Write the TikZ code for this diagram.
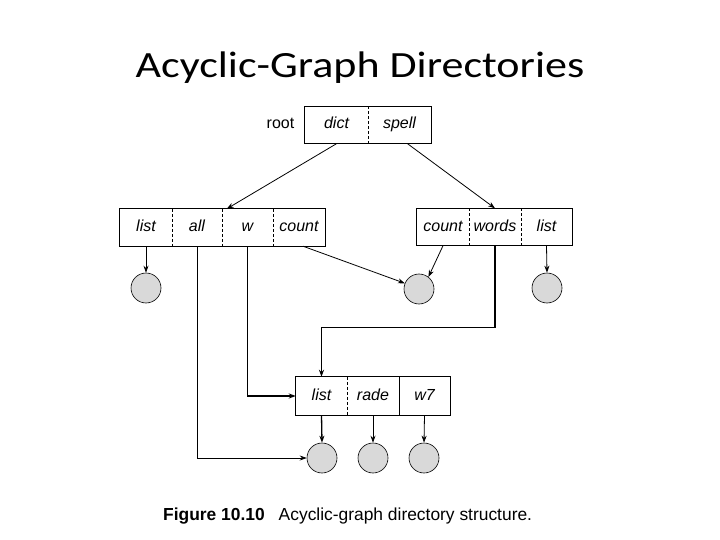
\documentclass[tikz,border=0pt]{standalone}
\usepackage{fontspec}
\setmainfont{Carlito}
\newfontfamily\figfont{Liberation Sans}
\usetikzlibrary{arrows.meta}
\tikzset{
  cell/.style={minimum height=37pt, inner sep=0pt, text height=11pt, text depth=3pt,
    font=\figfont\itshape\fontsize{16}{16}\selectfont},
  box/.style={line width=0.8pt},
  divider/.style={line width=0.6pt, densely dashed},
  file/.style={circle, draw, line width=0.6pt, fill=gray!30, minimum size=30pt, inner sep=0pt},
  link/.style={-{Stealth[length=7pt,width=5pt]}, line width=0.8pt},
  heavy/.style={link, line width=1.3pt},
}
\begin{document}
\begin{tikzpicture}[x=1pt,y=-1pt]
\useasboundingbox[fill=white] (0,0) rectangle (720,540);
\node[anchor=base, inner sep=0pt, font=\fontsize{37}{37}\selectfont] (title) at (360,78)
    {\scalebox{1.19}[1]{Acyclic-Graph Directories}};

% root directory
\node[cell, minimum width=63pt] (dict) at (336.5,125) {dict};
\node[cell, minimum width=63pt] (spell) at (399.5,125) {spell};
\draw[box] (dict.north west) rectangle (spell.south east);
\draw[divider] (dict.north east) -- (dict.south east);
\node[anchor=east, text height=11pt, text depth=3pt, font=\figfont\fontsize{16}{16}\selectfont] (root) at ([xshift=-7pt]dict.west) {root};

% dict
\node[cell, minimum width=52pt] (lst) at (146,227.5) {list};
\node[cell, minimum width=50pt] (all) at (197,227.5) {all};
\node[cell, minimum width=51pt] (w) at (247.5,227.5) {w};
\node[cell, minimum width=52pt] (cnt) at (299,227.5) {count};
\draw[box] (lst.north west) rectangle (cnt.south east);
\foreach \c in {lst, all, w}{
    \draw[divider] (\c.north east) -- (\c.south east);
}

% spell
\node[cell, minimum width=52pt] (rcnt) at (443,227) {count};
\node[cell, minimum width=52pt] (words) at (495,227) {words};
\node[cell, minimum width=51pt] (rlst) at (546.5,227) {list};
\draw[box] (rcnt.north west) rectangle (rlst.south east);
\foreach \c in {rcnt, words}{
    \draw[divider] (\c.north east) -- (\c.south east);
}

% shared directory
\node[cell, minimum width=51pt, minimum height=38pt] (blst) at (321.5,396) {list};
\node[cell, minimum width=52pt, minimum height=38pt] (rade) at (373,396) {rade};
\node[cell, minimum width=51pt, minimum height=38pt] (wseven) at (424.5,396) {w7};
\draw[box] (blst.north west) rectangle (wseven.south east);
\draw[divider] (blst.north east) -- (blst.south east);
\draw[line width=0.6pt] (rade.north east) -- (rade.south east);

% files
\node[file] (f1) at (146,288) {};
\node[file] (f2) at (419,289) {};
\node[file] (f3) at (547,288) {};
\node[file] (f4) at (322,458) {};
\node[file] (f5) at (373,458) {};
\node[file] (f6) at (424,458) {};

% links
\draw[link] (dict.south) -- ([xshift=5pt]w.north west);
\draw[link] ([xshift=8pt]spell.south) -- (words.north);
\draw[link] (lst.south) -- (f1.north);
\draw[link] (all.south) |- (f4.west);
\draw[heavy] (w.south) |- (blst.west);
\draw[link] ([xshift=4pt]cnt.south) -- (f2.158);
\draw[link] (rcnt.south) -- (f2.52);
\draw[heavy] (words.south) |- ([yshift=49pt]blst.north) -- (blst.north);
\draw[link] (rlst.south) -- (f3.north);
\draw[heavy] (blst.south) -- (f4.north);
\draw[link] (rade.south) -- (f5.north);
\draw[link] (wseven.south) -- (f6.north);

\node[anchor=base west, inner sep=0pt, font=\figfont\fontsize{17.4}{17.4}\selectfont] (caption) at (163,520)
    {\textbf{Figure 10.10}\hspace{14pt}Acyclic-graph directory structure.};
\end{tikzpicture}
\end{document}
